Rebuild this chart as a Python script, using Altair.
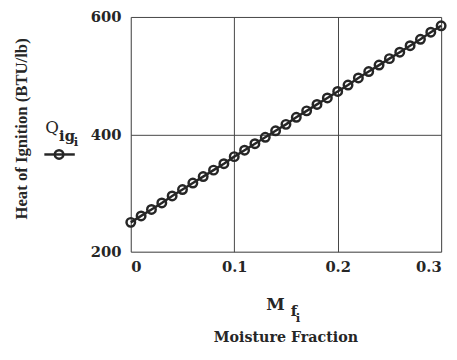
import altair as alt
import pandas as pd

moisture = [0.00, 0.01, 0.02, 0.03, 0.04, 0.05, 0.06, 0.07, 0.08, 0.09, 0.10,
            0.11, 0.12, 0.13, 0.14, 0.15, 0.16, 0.17, 0.18, 0.19, 0.20,
            0.21, 0.22, 0.23, 0.24, 0.25, 0.26, 0.27, 0.28, 0.29, 0.30]
heat = [250, 261, 272, 283, 295, 306, 317, 328, 339, 350, 362,
        373, 384, 395, 406, 417, 429, 440, 451, 462, 473,
        484, 496, 507, 518, 529, 540, 551, 562, 574, 585]
x_ticks = [0, 0.1, 0.2, 0.3]
y_ticks = [200, 400, 600]

df = pd.DataFrame({"M": moisture, "Q": heat})

SERIF = "DejaVu Serif"
INK = "#262626"

xs = alt.Scale(domain=[0, 0.3], nice=False, zero=False)
ys = alt.Scale(domain=[200, 600], nice=False, zero=False)

x_enc = alt.X("M:Q", scale=xs, axis=alt.Axis(
    values=x_ticks, title=None, grid=True, gridColor="#444", gridWidth=1,
    ticks=False, domain=False, labelFlush=True, labelFont=SERIF, labelFontSize=15,
    labelFontWeight="bold", labelColor=INK, labelPadding=8,
    labelExpr="datum.value == 0 ? '0' : format(datum.value, '.1f')"))
y_enc = alt.Y("Q:Q", scale=ys, axis=alt.Axis(
    values=y_ticks, title=None, grid=True, gridColor="#444", gridWidth=1,
    ticks=False, domain=False, labelFont=SERIF, labelFontSize=15, labelFontWeight="bold",
    labelColor=INK, labelPadding=10))

line = alt.Chart(df).mark_line(color=INK, strokeWidth=2.5).encode(x=x_enc, y=y_enc)
pts = alt.Chart(df).mark_point(shape="circle", size=75, filled=False, color=INK,
                               strokeWidth=2.5, opacity=1).encode(x="M:Q", y="Q:Q")

def label(text, x, y, size, angle=0, weight="bold", font=SERIF, align="center"):
    return alt.Chart(pd.DataFrame({"t": [text]})).mark_text(
        font=font, fontSize=size, fontWeight=weight, color=INK, angle=angle,
        align=align, baseline="middle").encode(
        text="t:N", x=alt.value(x), y=alt.value(y))

ox, oy = 133, 14
texts = [
    label("Heat of Ignition (BTU/lb)", 22 - ox, 128 - oy, 17, angle=270,
          font="Liberation Serif"),
    label("Q", 46 - ox, 127 - oy, 17, weight="normal", align="left"),
    label("ig", 60 - ox, 135 - oy, 15, align="left"),
    label("i", 75 - ox, 141 - oy, 12, align="left"),
    label("M", 271 - ox, 307 - oy, 17, align="left"),
    label("f", 296 - ox, 313 - oy, 15, align="left"),
    label("i", 301 - ox, 321 - oy, 12, align="left"),
    label("Moisture Fraction", 291 - ox, 341 - oy, 14.5),
]

legend_line = alt.Chart(pd.DataFrame({"a": [0]})).mark_rule(color=INK, strokeWidth=2.5).encode(
    x=alt.value(45 - ox), x2=alt.value(76 - ox), y=alt.value(154 - oy))
legend_pt = alt.Chart(pd.DataFrame({"a": [0]})).mark_point(
    shape="circle", size=75, filled=False, color=INK, strokeWidth=2.5, opacity=1).encode(
    x=alt.value(60 - ox), y=alt.value(154 - oy))

chart = alt.layer(line, pts, legend_line, legend_pt, *texts).properties(
    width=316, height=239,
    autosize=alt.AutoSizeParams(type="none"),
    padding={"left": 125, "top": 6, "right": 8, "bottom": 100},
).configure_view(stroke="#111", strokeWidth=2).configure(background="white")

chart.save("out.html", embed_options={"renderer": "svg", "actions": False})
